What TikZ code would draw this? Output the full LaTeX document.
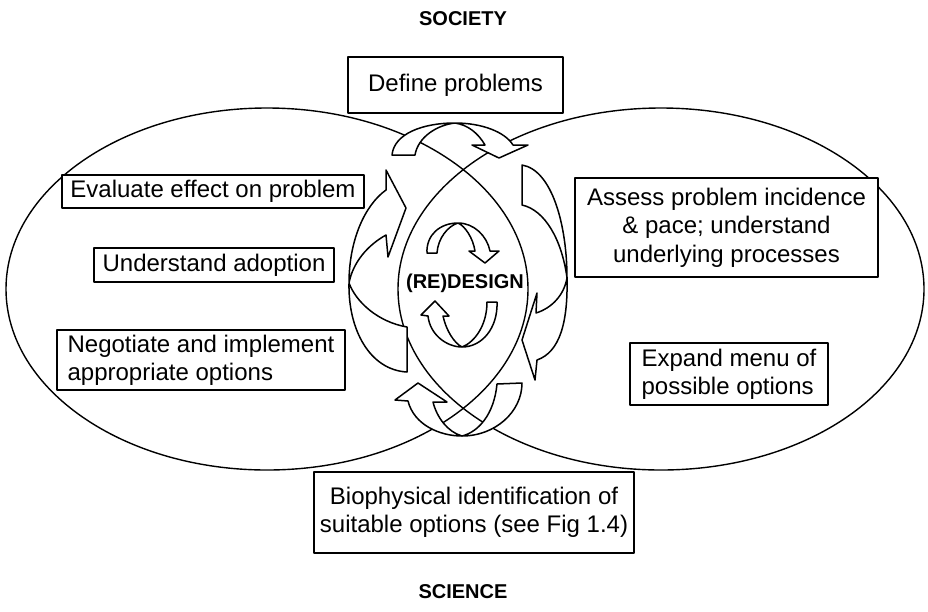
\documentclass[tikz,border=0pt]{standalone}
\usepackage{fontspec}
\setmainfont{Liberation Sans}
\begin{document}
\begin{tikzpicture}[x=1pt,y=-1pt,line join=round,
  arr/.style={draw=black,fill=white,line width=1.5pt},
  ell/.style={draw=black,line width=1.4pt},
  box/.style={draw=black,fill=white,line width=1.5pt,inner sep=0pt,font=\fontsize{24}{28.3}\selectfont},
  lbl/.style={inner sep=0pt,font=\fontsize{20}{24}\selectfont\bfseries}]
\useasboundingbox (0,0) rectangle (928,611);
\fill[white] (0,0) rectangle (928,611);
% the two large ellipses
\draw[ell] (267,289) ellipse [x radius=261, y radius=181];
\draw[ell] (661,289) ellipse [x radius=263, y radius=181];
% top big arrow
\draw[arr] (392,155) .. controls (394,134) and (422,123) .. (455,123)
  .. controls (482,123) and (505,132) .. (513,145) -- (528,145) -- (499,158) -- (472,145) -- (485,145)
  .. controls (478,133) and (468,125) .. (455,123)
  .. controls (437,125) and (418,137) .. (415,155) -- cycle;
% bottom big arrow
\draw[arr] (408,401) -- (395,400) -- (418,383) -- (447,402) -- (433,402)
  .. controls (437,418) and (448,432) .. (462,436)
  .. controls (478,432) and (494,415) .. (497,384) -- (522,383)
  .. controls (522,412) and (495,436) .. (462,436)
  .. controls (440,436) and (414,425) .. (408,401) -- cycle;
% left big arrow
\draw[arr] (386,190) -- (386,170) -- (406,208) -- (388,257) -- (386,235)
  .. controls (368,245) and (353,262) .. (349,283)
  .. controls (356,302) and (378,322) .. (407,327) -- (407,372)
  .. controls (370,370) and (348,330) .. (349,283)
  .. controls (349,240) and (365,205) .. (386,190) -- cycle;
% right big arrow
\draw[arr] (522,165) .. controls (552,170) and (567,225) .. (567,278)
  .. controls (568,322) and (560,352) .. (537,360) -- (535,380) -- (522,340) -- (537,293) -- (536,313)
  .. controls (552,308) and (564,295) .. (567,278)
  .. controls (562,240) and (545,210) .. (522,205) -- cycle;
% small top arrow
\draw[arr] (427,253) .. controls (426,235) and (440,223) .. (458,223)
  .. controls (474,223) and (487,236) .. (490,251) -- (499,251) -- (485,263) -- (469,251) -- (475,251)
  .. controls (473,238) and (465,226) .. (458,223)
  .. controls (448,226) and (438,238) .. (437,253) -- cycle;
% small bottom arrow
\draw[arr] (428,316) -- (421,315) -- (435,301) -- (449,316) -- (443,316)
  .. controls (446,330) and (454,343) .. (462,347)
  .. controls (475,342) and (487,325) .. (487,302) -- (497,302)
  .. controls (498,328) and (482,347) .. (462,347)
  .. controls (447,347) and (430,335) .. (428,316) -- cycle;
% boxes
\node[box,minimum width=215pt,minimum height=56pt] (define) at (455.5,85) {Define problems};
\node[box,minimum width=302pt,minimum height=33pt] (evaluate) at (213,191.5) {Evaluate effect on problem};
\node[box,minimum width=240pt,minimum height=34pt] (adoption) at (214,265) {Understand adoption};
\node[box,minimum width=288pt,minimum height=60pt,align=left] (negotiate) at (201,360) {Negotiate and implement\\appropriate options};
\node[box,minimum width=303pt,minimum height=99pt,align=center] (assess) at (726.5,227.5) {Assess problem incidence\\\& pace; understand\\underlying processes};
\node[box,minimum width=198pt,minimum height=62pt,align=left] (expand) at (729,374) {Expand menu of\\possible options};
\node[box,minimum width=320pt,minimum height=81pt,align=center] (bio) at (474,512.5) {Biophysical identification of\\suitable options (see Fig 1.4)};
% labels
\node[lbl] (society) at (463,19) {SOCIETY};
\node[lbl] (science) at (463,592) {SCIENCE};
\node[lbl] (redesign) at (465,283) {(RE)DESIGN};
\end{tikzpicture}
\end{document}
